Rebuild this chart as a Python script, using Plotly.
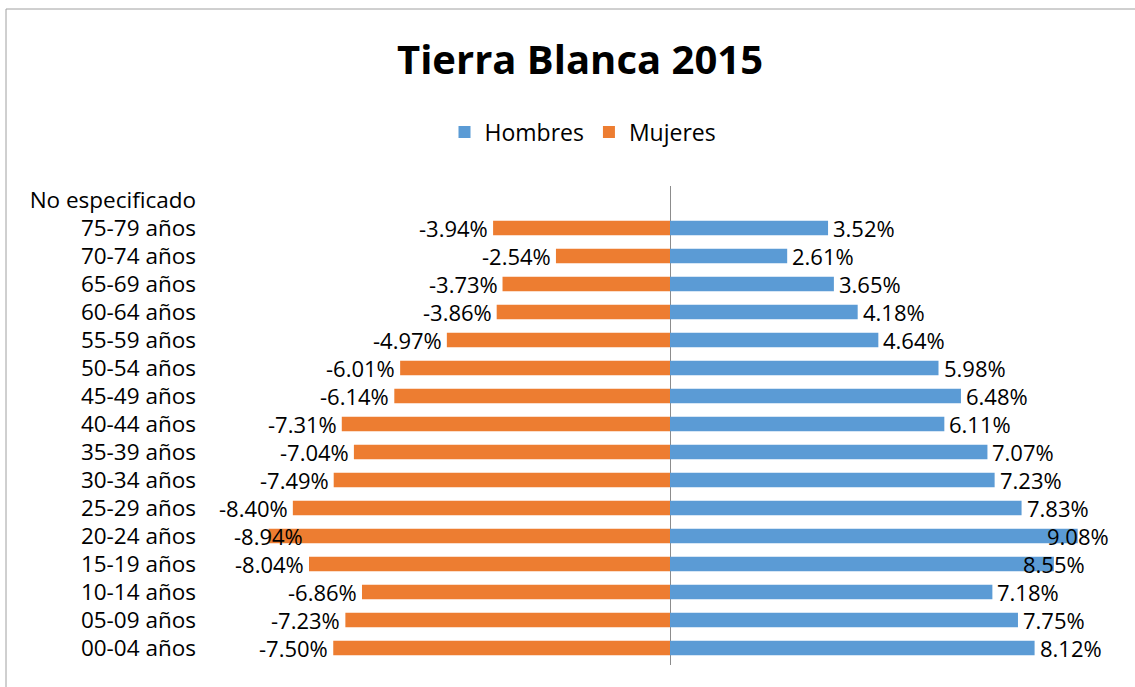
import plotly.graph_objects as go

categories = ["00-04 años", "05-09 años", "10-14 años", "15-19 años", "20-24 años",
              "25-29 años", "30-34 años", "35-39 años", "40-44 años", "45-49 años",
              "50-54 años", "55-59 años", "60-64 años", "65-69 años", "70-74 años",
              "75-79 años", "No especificado"]
hombres = [8.12, 7.75, 7.18, 8.55, 9.08, 7.83, 7.23, 7.07, 6.11, 6.48,
           5.98, 4.64, 4.18, 3.65, 2.61, 3.52, None]
mujeres = [-7.50, -7.23, -6.86, -8.04, -8.94, -8.40, -7.49, -7.04, -7.31, -6.14,
           -6.01, -4.97, -3.86, -3.73, -2.54, -3.94, None]

FONT = "'Open Sans', 'Noto Sans', sans-serif"

fig = go.Figure()
annotations = []
for name, vals, color in [("Hombres", hombres, "#5B9BD5"), ("Mujeres", mujeres, "#ED7D31")]:
    fig.add_trace(go.Bar(y=categories, x=vals, name=name, orientation="h",
                         marker=dict(color=color, line=dict(width=0)),
                         hoverinfo="x+y"))
    for cat, v in zip(categories, vals):
        if v is None:
            continue
        if abs(v) >= 8.5:
            anchor, shift = "center", 0
        elif v > 0:
            anchor, shift = "left", 3
        else:
            anchor, shift = "right", -3
        annotations.append(dict(x=v, y=cat, xref="x", yref="y", text=f"{v:.2f}%",
                                showarrow=False, xanchor=anchor, xshift=shift,
                                yanchor="middle",
                                font=dict(size=22, color="#000000", family=FONT)))

L, R, T, B = 221, 16, 186, 22
W, H = 1135, 687
pw, ph = W - L - R, H - T - B

fig.update_layout(
    width=W, height=H,
    margin=dict(l=L, r=R, t=T, b=B),
    paper_bgcolor="white", plot_bgcolor="white",
    barmode="overlay", bargap=0.48,
    font=dict(family=FONT, color="#000000", size=22),
    title=dict(text="<b>Tierra Blanca 2015</b>", x=580 / W, xref="container",
               xanchor="center", y=1 - 60 / H, yref="container", yanchor="middle",
               font=dict(size=40, color="#000000", family=FONT)),
    legend=dict(orientation="h", x=583 / W, xref="container", xanchor="center",
                y=1 - 132 / H, yref="container", yanchor="middle",
                font=dict(size=23, family=FONT), traceorder="normal",
                itemwidth=30),
    xaxis=dict(range=[-10, 10], showticklabels=False, showgrid=False,
               zeroline=True, zerolinecolor="#8C8C8C", zerolinewidth=1,
               showline=False, ticks=""),
    yaxis=dict(showgrid=False, zeroline=False, showline=False, ticks="",
               ticklabelstandoff=24, tickfont=dict(size=22.5, family=FONT)),
    annotations=annotations,
    shapes=[dict(type="rect", xref="paper", yref="paper",
                 x0=(6 - L) / pw, x1=(1150 - L) / pw,
                 y0=(H - B - 700) / ph, y1=(H - B - 9) / ph,
                 line=dict(color="#A0A0A0", width=1), fillcolor="rgba(0,0,0,0)",
                 layer="below")],
    showlegend=True,
)

fig.write_html("out.html", config={"displayModeBar": False},
               post_script="document.body.style.margin='0';document.body.style.overflow='hidden';")
